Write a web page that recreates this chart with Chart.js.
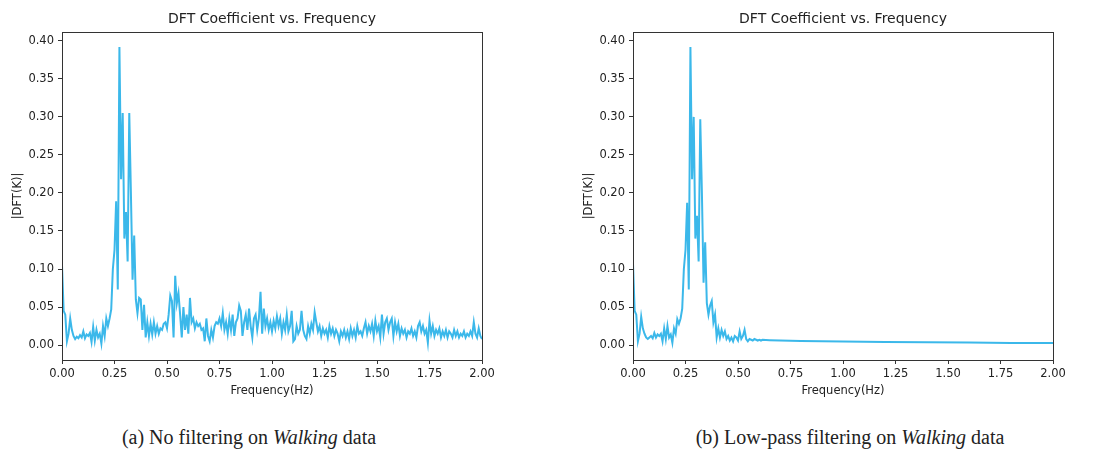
<!DOCTYPE html>
<html>
<head>
<meta charset="utf-8">
<script src="https://cdn.jsdelivr.net/npm/chart.js@4.4.0/dist/chart.umd.min.js"></script>
<style>
  body { margin: 0; background: #fff; width: 1096px; height: 450px; position: relative; overflow: hidden; }
  canvas { position: absolute; top: 0; }
  .cap { position: absolute; top: 426px; line-height: 22px; font-family: "Liberation Serif", "Times New Roman", serif; font-size: 20px; color: #222; white-space: nowrap; transform: translateX(-50%); }
</style>
</head>
<body>
<canvas id="chartA" width="548" height="400" style="left:0"></canvas>
<canvas id="chartB" width="525" height="400" style="left:571px"></canvas>
<div class="cap" style="left:249px">(a) No filtering on <i>Walking</i> data</div>
<div class="cap" style="left:850px">(b) Low-pass filtering on <i>Walking</i> data</div>
<script>
// DFT bin width (1/128 Hz)
const binHz = 1 / 128;

// (a) no filtering, 0 .. 2 Hz
const magRaw = [
  0.105, 0.045, 0.040, 0.005, 0.015, 0.035, 0.020, 0.012, 0.008, 0.011,
  0.009, 0.013, 0.010, 0.018, 0.009, 0.014, 0.012, 0.016, 0.004, 0.024,
  0.006, 0.020, 0.010, 0.015, 0.002, 0.025, 0.012, 0.035, 0.025, 0.035,
  0.047, 0.100, 0.125, 0.189, 0.073, 0.392, 0.218, 0.305, 0.140, 0.175,
  0.110, 0.305, 0.200, 0.086, 0.144, 0.060, 0.042, 0.062, 0.060, 0.020,
  0.053, 0.010, 0.030, 0.012, 0.028, 0.014, 0.030, 0.015, 0.025, 0.015,
  0.022, 0.020, 0.028, 0.030, 0.022, 0.040, 0.065, 0.058, 0.010, 0.091,
  0.055, 0.068, 0.040, 0.010, 0.050, 0.020, 0.040, 0.015, 0.062, 0.030,
  0.035, 0.022, 0.030, 0.025, 0.028, 0.020, 0.022, 0.005, 0.035, 0.012,
  0.005, 0.020, 0.010, 0.025, 0.030, 0.028, 0.035, 0.025, 0.042, 0.020,
  0.030, 0.015, 0.035, 0.020, 0.040, 0.012, 0.030, 0.035, 0.052, 0.045,
  0.012, 0.030, 0.040, 0.020, 0.048, 0.025, 0.010, 0.035, 0.040, 0.020,
  0.035, 0.070, 0.015, 0.048, 0.025, 0.035, 0.020, 0.030, 0.018, 0.032,
  0.022, 0.038, 0.025, 0.035, 0.015, 0.030, 0.020, 0.040, 0.018, 0.025,
  0.045, 0.005, 0.008, 0.025, 0.015, 0.020, 0.045, 0.020, 0.012, 0.008,
  0.025, 0.015, 0.028, 0.020, 0.043, 0.030, 0.018, 0.025, 0.012, 0.022,
  0.015, 0.020, 0.010, 0.025, 0.015, 0.022, 0.012, 0.020, 0.015, 0.005,
  0.018, 0.012, 0.020, 0.010, 0.018, 0.008, 0.022, 0.012, 0.020, 0.010,
  0.025, 0.015, 0.018, 0.012, 0.022, 0.030, 0.015, 0.025, 0.018, 0.028,
  0.012, 0.032, 0.018, 0.025, 0.010, 0.040, 0.015, 0.030, 0.035, 0.020,
  0.030, 0.035, 0.012, 0.030, 0.018, 0.028, 0.012, 0.022, 0.015, 0.020,
  0.010, 0.018, 0.015, 0.022, 0.012, 0.018, 0.010, 0.025, 0.030, 0.018,
  0.025, 0.015, 0.020, 0.003, 0.032, 0.015, 0.025, 0.012, 0.020, 0.015,
  0.022, 0.010, 0.018, 0.012, 0.020, 0.010, 0.018, 0.015, 0.010, 0.020,
  0.012, 0.018, 0.010, 0.015, 0.012, 0.018, 0.010, 0.015, 0.012, 0.018,
  0.012, 0.030, 0.015, 0.010, 0.022, 0.012, 0.008
];

// (b) low-pass filtered, 0 .. ~0.6 Hz on the same bins
const magLow = [
  0.107, 0.045, 0.040, 0.005, 0.015, 0.037, 0.022, 0.015, 0.010, 0.008,
  0.010, 0.012, 0.009, 0.016, 0.010, 0.014, 0.012, 0.015, 0.005, 0.022,
  0.008, 0.025, 0.010, 0.014, 0.003, 0.022, 0.015, 0.034, 0.028, 0.035,
  0.048, 0.100, 0.125, 0.187, 0.073, 0.392, 0.218, 0.300, 0.140, 0.170,
  0.110, 0.297, 0.200, 0.082, 0.135, 0.055, 0.040, 0.052, 0.058, 0.030,
  0.040, 0.010, 0.022, 0.010, 0.020, 0.012, 0.018, 0.008, 0.012, 0.006,
  0.010, 0.005, 0.012, 0.010, 0.006, 0.018, 0.008, 0.012, 0.020, 0.008,
  0.005, 0.008, 0.007, 0.006, 0.008, 0.007, 0.006, 0.007, 0.006, 0.007
];
// smooth tail of (b) above 0.6 Hz
const tailFreq = [0.65, 0.70, 0.80, 0.90, 1.00, 1.20, 1.40, 1.60, 1.80, 2.00];
const tailMag  = [0.0065, 0.0060, 0.0055, 0.0050, 0.0047, 0.0042, 0.0037, 0.0033, 0.0029, 0.0026];

const xTicks = [0, 0.25, 0.5, 0.75, 1, 1.25, 1.5, 1.75, 2];
const yTicks = [0, 0.05, 0.1, 0.15, 0.2, 0.25, 0.3, 0.35, 0.4];

const ptsRaw = magRaw.map((v, i) => ({ x: i * binHz, y: v }));
const ptsLow = magLow.map((v, i) => ({ x: i * binHz, y: v }))
  .concat(tailFreq.map((f, i) => ({ x: f, y: tailMag[i] })));

const txt = '#222';
const fnt = { family: 'DejaVu Sans', size: 11.5 };

// matplotlib-like box round the plot
const frame = {
  id: 'frame',
  afterDraw(chart) {
    const { ctx, chartArea: a } = chart;
    ctx.save();
    ctx.strokeStyle = '#333';
    ctx.lineWidth = 1;
    ctx.strokeRect(a.left + 0.5, a.top + 0.5, a.right - a.left, a.bottom - a.top);
    ctx.restore();
  }
};

function makeChart(id, pts, padRight) {
  return new Chart(document.getElementById(id), {
    type: 'line',
    data: {
      datasets: [{
        data: pts,
        borderColor: '#3bb8ea',
        borderWidth: 2,
        pointRadius: 0,
        tension: 0,
        fill: false
      }]
    },
    options: {
      responsive: false,
      animation: false,
      devicePixelRatio: 1,
      layout: { padding: { left: 0, right: padRight, top: 0, bottom: 0 } },
      plugins: {
        legend: { display: false },
        tooltip: { enabled: false },
        title: {
          display: true,
          text: 'DFT Coefficient vs. Frequency',
          fullSize: false,
          color: txt,
          font: { family: 'DejaVu Sans', size: 14, weight: 'normal', lineHeight: 1.2 },
          padding: { top: 11, bottom: 4.2 }
        }
      },
      scales: {
        x: {
          type: 'linear',
          min: 0,
          max: 2,
          afterBuildTicks: s => { s.ticks = xTicks.map(v => ({ value: v })); },
          afterFit: s => { s.height = 40; },
          ticks: { callback: v => Number(v).toFixed(2), color: txt, font: fnt, padding: 3, maxRotation: 0, autoSkip: false },
          grid: { drawOnChartArea: false, tickLength: 4, color: '#333' },
          border: { display: false },
          title: { display: true, text: 'Frequency(Hz)', color: txt, font: fnt, padding: { top: 0, bottom: 2 } }
        },
        y: {
          min: -0.0196,
          max: 0.4116,
          afterBuildTicks: s => { s.ticks = yTicks.map(v => ({ value: v })); },
          afterFit: s => { s.width = 62; },
          ticks: { callback: v => Number(v).toFixed(2), color: txt, font: fnt, padding: 4 },
          grid: { drawOnChartArea: false, tickLength: 4, color: '#333' },
          border: { display: false },
          title: { display: true, text: '|DFT(K)|', color: txt, font: fnt, padding: { top: 11, bottom: 0 } }
        }
      }
    },
    plugins: [frame]
  });
}

makeChart('chartA', ptsRaw, 66);
makeChart('chartB', ptsLow, 43);
</script>
</body>
</html>
